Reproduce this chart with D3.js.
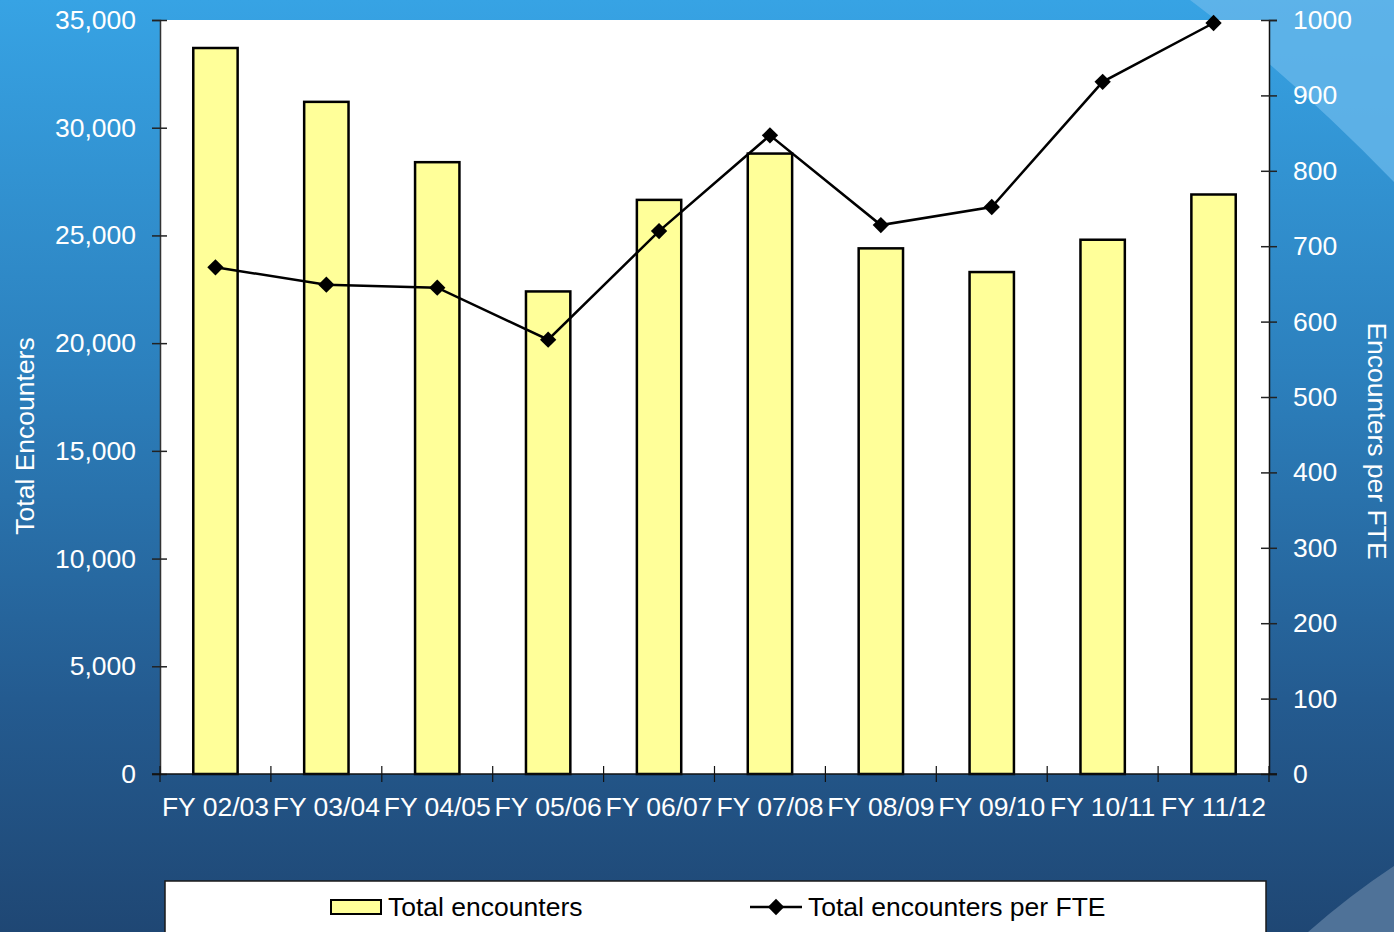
<!DOCTYPE html>
<html>
<head>
<meta charset="utf-8">
<script src="https://cdn.jsdelivr.net/npm/d3@7"></script>
<style>
  html, body { margin: 0; padding: 0; overflow: hidden; }
  svg { display: block; font-family: "Liberation Sans", Arial, sans-serif; }
</style>
</head>
<body>
<svg id="chart" width="1394" height="932"></svg>
<script>
// Fiscal years
const categories = ["FY 02/03", "FY 03/04", "FY 04/05", "FY 05/06", "FY 06/07",
                    "FY 07/08", "FY 08/09", "FY 09/10", "FY 10/11", "FY 11/12"];
// Total encounters (bars, left axis)
const totalEncounters = [33700, 31200, 28400, 22400, 26650, 28800, 24400, 23300, 24800, 26900];
// Total encounters per FTE (line, right axis)
const encountersPerFTE = [672, 649, 645, 576, 720, 847, 728, 752, 918, 996];
// Axis ticks
const leftTicks = [0, 5000, 10000, 15000, 20000, 25000, 30000, 35000];
const rightTicks = [0, 100, 200, 300, 400, 500, 600, 700, 800, 900, 1000];

const W = 1394, H = 932;
const FONT = "Liberation Sans, Arial, sans-serif";
const FS = 26.5;
const svg = d3.select("#chart");
const defs = svg.append("defs");

// Slide background
const bg = defs.append("linearGradient").attr("id", "bgGrad")
  .attr("x1", 0).attr("y1", 0).attr("x2", 0).attr("y2", 1);
bg.append("stop").attr("offset", "0%").attr("stop-color", "#37a3e4");
bg.append("stop").attr("offset", "40%").attr("stop-color", "#2c80bd");
bg.append("stop").attr("offset", "75%").attr("stop-color", "#245b90");
bg.append("stop").attr("offset", "100%").attr("stop-color", "#1f4774");
svg.append("rect").attr("width", W).attr("height", H).attr("fill", "url(#bgGrad)");

// Decorative light shapes in the corners
svg.append("path")
  .attr("d", "M1190,0 Q1290,75 1394,182 L1394,0 Z")
  .attr("fill", "#66b6ea").attr("opacity", 0.8);
svg.append("path")
  .attr("d", "M1308,932 Q1350,895 1394,866 L1394,932 Z")
  .attr("fill", "#4f7298");

const margin = { left: 160, right: 1269, top: 20, bottom: 774 };

const x = d3.scaleBand().domain(categories)
  .range([margin.left, margin.right]).paddingInner(0).paddingOuter(0);
const yL = d3.scaleLinear().domain([0, 35000]).range([margin.bottom, margin.top]);
const yR = d3.scaleLinear().domain([0, 1000]).range([margin.bottom, margin.top]);

// Plot area
svg.append("rect")
  .attr("x", margin.left).attr("y", margin.top)
  .attr("width", margin.right - margin.left).attr("height", margin.bottom - margin.top)
  .attr("fill", "#ffffff");

// Bars
const barW = x.bandwidth() * 0.4;
svg.append("g").selectAll("rect").data(totalEncounters).join("rect")
  .attr("x", (d, i) => x(categories[i]) + (x.bandwidth() - barW) / 2)
  .attr("y", d => yL(d))
  .attr("width", barW)
  .attr("height", d => yL(0) - yL(d))
  .attr("fill", "#ffff99")
  .attr("stroke", "#000")
  .attr("stroke-width", 2.5);

// Left axis
const axL = svg.append("g").attr("transform", `translate(${margin.left},0)`)
  .call(d3.axisLeft(yL).tickValues(leftTicks).tickFormat(d3.format(",")).tickSize(8).tickPadding(16));
axL.select(".domain").attr("stroke", "#333").attr("stroke-width", 1.5);
axL.selectAll(".tick line").attr("stroke", "#222").attr("stroke-width", 1.5).attr("x2", -8).attr("x1", 7);
axL.selectAll("text").attr("fill", "#fff").attr("font-size", FS).attr("font-family", FONT);

// Right axis
const axR = svg.append("g").attr("transform", `translate(${margin.right},0)`)
  .call(d3.axisRight(yR).tickValues(rightTicks).tickFormat(d3.format("d")).tickSize(8).tickPadding(16));
axR.select(".domain").attr("stroke", "#111").attr("stroke-width", 1.5);
axR.selectAll(".tick line").attr("stroke", "#222").attr("stroke-width", 1.5).attr("x1", -8).attr("x2", 8);
axR.selectAll("text").attr("fill", "#fff").attr("font-size", FS).attr("font-family", FONT);

// Bottom axis with category boundary ticks
const axB = svg.append("g").attr("transform", `translate(0,${margin.bottom})`);
axB.append("line").attr("x1", margin.left - 8).attr("x2", margin.right + 8)
  .attr("stroke", "#111").attr("stroke-width", 1.5);
const bounds = categories.map(c => x(c)).concat([margin.right]);
axB.selectAll("line.tk").data(bounds).join("line").attr("class", "tk")
  .attr("x1", d => d).attr("x2", d => d).attr("y1", -8).attr("y2", 8)
  .attr("stroke", "#111").attr("stroke-width", 1.2);
axB.selectAll("text").data(categories).join("text")
  .attr("x", d => x(d) + x.bandwidth() / 2)
  .attr("y", 42)
  .attr("text-anchor", "middle")
  .attr("fill", "#fff").attr("font-size", FS).attr("font-family", FONT)
  .text(d => d);

// Line series
const lineGen = d3.line()
  .x((d, i) => x(categories[i]) + x.bandwidth() / 2)
  .y(d => yR(d));
svg.append("path").datum(encountersPerFTE)
  .attr("d", lineGen).attr("fill", "none")
  .attr("stroke", "#000").attr("stroke-width", 2.5);
const diamond = d3.symbol().type(d3.symbolDiamond2).size(170);
svg.append("g").selectAll("path").data(encountersPerFTE).join("path")
  .attr("transform", (d, i) => `translate(${x(categories[i]) + x.bandwidth() / 2},${yR(d)})`)
  .attr("d", diamond).attr("fill", "#000");

// Axis titles
svg.append("text")
  .attr("transform", "translate(34,436) rotate(-90)")
  .attr("text-anchor", "middle").attr("fill", "#fff").attr("font-size", FS).attr("font-family", FONT)
  .text("Total Encounters");
svg.append("text")
  .attr("transform", "translate(1368,441) rotate(90)")
  .attr("text-anchor", "middle").attr("fill", "#fff").attr("font-size", FS).attr("font-family", FONT)
  .text("Encounters per FTE");

// Legend
const lg = svg.append("g");
lg.append("rect").attr("x", 165).attr("y", 881).attr("width", 1101).attr("height", 70)
  .attr("fill", "#fff").attr("stroke", "#1a1a1a").attr("stroke-width", 1.5);
lg.append("rect").attr("x", 331).attr("y", 900).attr("width", 50).attr("height", 14)
  .attr("fill", "#ffff99").attr("stroke", "#000").attr("stroke-width", 2);
lg.append("text").attr("x", 388).attr("y", 916).attr("fill", "#000").attr("font-size", FS).attr("font-family", FONT)
  .text("Total encounters");
lg.append("line").attr("x1", 750).attr("x2", 802).attr("y1", 907).attr("y2", 907)
  .attr("stroke", "#000").attr("stroke-width", 2.5);
lg.append("path").attr("transform", "translate(776,907)").attr("d", diamond).attr("fill", "#000");
lg.append("text").attr("x", 808).attr("y", 916).attr("fill", "#000").attr("font-size", FS).attr("font-family", FONT)
  .text("Total encounters per FTE");
</script>
</body>
</html>
